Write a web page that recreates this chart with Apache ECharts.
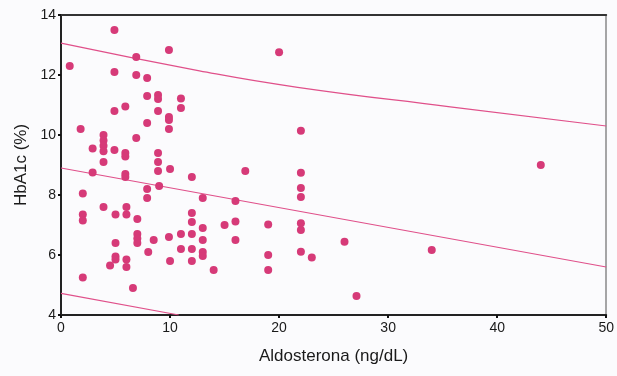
<!DOCTYPE html>
<html>
<head>
<meta charset="utf-8">
<script src="https://cdn.jsdelivr.net/npm/echarts@6/dist/echarts.min.js"></script>
<style>
  html, body { margin: 0; padding: 0; background: #fbfbfd; }
  #chart { width: 617px; height: 376px; }
</style>
</head>
<body>
<div id="chart"></div>
<script>
// Aldosterone (ng/dL) for each patient
const aldosterona = [
  0.8, 1.8, 2.0, 2.0, 2.0, 2.0, 2.9, 2.9, 3.9, 3.9,
  3.9, 3.9, 3.9, 3.9, 4.5, 4.9, 4.9, 4.9, 4.9, 5.0,
  5.0, 5.0, 5.0, 5.9, 5.9, 5.9, 5.9, 5.9, 6.0, 6.0,
  6.0, 6.0, 6.6, 6.9, 6.9, 6.9, 7.0, 7.0, 7.0, 7.0,
  7.9, 7.9, 7.9, 7.9, 7.9, 8.0, 8.5, 8.9, 8.9, 8.9,
  8.9, 8.9, 8.9, 9.0, 9.9, 9.9, 9.9, 9.9, 10.0, 9.9,
  10.0, 11.0, 11.0, 11.0, 11.0, 12.0, 12.0, 12.0, 12.0, 12.0,
  12.0, 13.0, 13.0, 13.0, 13.0, 13.0, 14.0, 15.0, 16.0, 16.0,
  16.0, 16.9, 19.0, 19.0, 19.0, 20.0, 22.0, 22.0, 22.0, 22.0,
  22.0, 22.0, 22.0, 23.0, 26.0, 27.1, 34.0, 44.0
];
// HbA1c (%) for the same patients
const hba1c = [
  12.3, 10.2, 8.05, 7.35, 7.15, 5.25, 9.55, 8.75, 10.0, 9.82,
  9.64, 9.46, 9.1, 7.6, 5.65, 13.5, 12.1, 10.8, 9.5, 7.35,
  6.4, 5.95, 5.85, 10.95, 9.4, 9.28, 8.7, 8.6, 7.6, 7.35,
  5.85, 5.6, 4.9, 12.6, 12.0, 9.9, 7.2, 6.7, 6.55, 6.4,
  11.9, 11.3, 10.4, 8.2, 7.9, 6.1, 6.5, 11.33, 11.2, 10.8,
  9.4, 9.1, 8.8, 8.3, 12.83, 10.6, 10.5, 10.2, 8.87, 6.6,
  5.8, 11.22, 10.9, 6.7, 6.2, 8.6, 7.4, 7.1, 6.7, 6.2,
  5.8, 7.9, 6.9, 6.5, 6.1, 5.97, 5.5, 7.0, 7.8, 7.12,
  6.5, 8.8, 7.02, 6.0, 5.5, 12.76, 10.14, 8.74, 8.23, 7.93,
  7.06, 6.83, 6.11, 5.92, 6.44, 4.63, 6.17, 9.0
];

// Fitted regression line and its prediction band
const fitX = [0, 50];
const fitY = [8.9, 5.6];
const upperX = [0, 12.7, 21.7, 35.7, 50];
const upperY = [13.06, 12.14, 11.59, 10.94, 10.3];
const lowerX = [0, 10.8];
const lowerY = [4.72, 4.0];

// Axis tick values
const xTicks = [0, 10, 20, 30, 40, 50];
const yTicks = [4, 6, 8, 10, 12, 14];

const pink = '#d63a78';
const linePink = '#e0508a';
const font = '"Liberation Sans", Arial, sans-serif';

const zip = (xs, ys) => xs.map((x, i) => [x, ys[i]]);

const chart = echarts.init(document.getElementById('chart'), null, { renderer: 'canvas' });

const xMin = xTicks[0], xMax = xTicks[xTicks.length - 1];
const yMin = yTicks[0], yMax = yTicks[yTicks.length - 1];

chart.setOption({
  backgroundColor: '#fbfbfd',
  animation: false,
  grid: { left: 61, right: 6, top: 15, bottom: 61 },
  xAxis: [
    {
      type: 'value', min: xMin, max: xMax, interval: 10,
      name: 'Aldosterona (ng/dL)', nameLocation: 'middle', nameGap: 33,
      nameTextStyle: { fontFamily: font, fontSize: 17, color: '#1a1a1a' },
      axisLine: { show: true, lineStyle: { color: '#222', width: 2 } },
      axisTick: { show: true, length: 3, lineStyle: { color: '#111', width: 2 } },
      axisLabel: { fontFamily: font, fontSize: 14, color: '#1a1a1a', margin: 6 },
      splitLine: { show: false }
    },
    {
      type: 'value', min: xMin, max: xMax, position: 'top',
      axisLine: { show: true, onZero: false, lineStyle: { color: '#333', width: 2 } },
      axisTick: { show: false }, axisLabel: { show: false }, splitLine: { show: false }
    }
  ],
  yAxis: [
    {
      type: 'value', min: yMin, max: yMax, interval: 2,
      name: 'HbA1c (%)', nameLocation: 'middle', nameGap: 30, nameRotate: 90,
      nameTextStyle: { fontFamily: font, fontSize: 17, color: '#1a1a1a' },
      axisLine: { show: true, lineStyle: { color: '#222', width: 2 } },
      axisTick: { show: true, length: 3, lineStyle: { color: '#111', width: 2 } },
      axisLabel: { fontFamily: font, fontSize: 14, color: '#1a1a1a', margin: 5 },
      splitLine: { show: false }
    },
    {
      type: 'value', min: yMin, max: yMax, position: 'right',
      axisLine: { show: true, onZero: false, lineStyle: { color: '#888', width: 1.5 } },
      axisTick: { show: false }, axisLabel: { show: false }, splitLine: { show: false }
    }
  ],
  series: [
    {
      type: 'line', data: zip(upperX, upperY), smooth: true, symbol: 'none',
      lineStyle: { color: linePink, width: 1.2 }, clip: true, z: 2
    },
    {
      type: 'line', data: zip(fitX, fitY), symbol: 'none',
      lineStyle: { color: linePink, width: 1.2 }, clip: true, z: 2
    },
    {
      type: 'line', data: zip(lowerX, lowerY), symbol: 'none',
      lineStyle: { color: linePink, width: 1.2 }, clip: true, z: 2
    },
    {
      type: 'scatter', data: zip(aldosterona, hba1c),
      symbol: 'circle', symbolSize: 8,
      itemStyle: { color: pink, opacity: 1 }, z: 3
    }
  ]
});
</script>
</body>
</html>
